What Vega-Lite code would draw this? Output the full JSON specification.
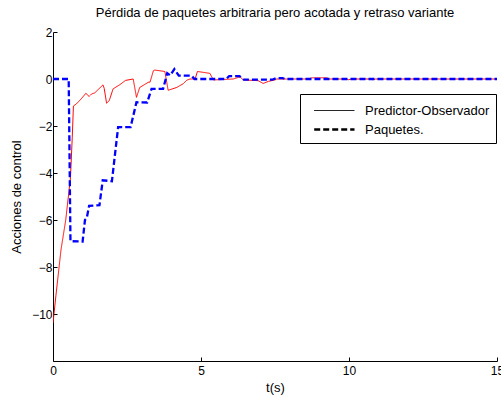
{
  "$schema": "https://vega.github.io/schema/vega-lite/v6.json",
  "width": 444,
  "height": 329,
  "autosize": "none",
  "padding": {"left": 53, "top": 32, "right": 4, "bottom": 37},
  "background": "white",
  "title": {"text": "Pérdida de paquetes arbitraria pero acotada y retraso variante", "font": "Liberation Sans", "fontSize": 13, "fontWeight": "normal", "color": "black", "frame": "group", "anchor": "middle", "offset": 6},
  "config": {
    "view": {"stroke": null},
    "axis": {"domainColor": "black", "tickColor": "black", "labelColor": "black", "titleColor": "black", "labelFont": "Liberation Sans", "titleFont": "Liberation Sans", "labelFontSize": 12, "titleFontSize": 13, "titleFontWeight": "normal", "grid": false, "tickSize": -4, "labelPadding": 5},
    "legend": {"orient": "none", "legendX": 247, "legendY": 62, "strokeColor": "black", "fillColor": "white", "padding": 6, "cornerRadius": 0, "symbolType": "M-0.33,0H3.7", "symbolStrokeColor": "black", "labelFont": "Liberation Sans", "labelFontSize": 13, "labelColor": "black", "symbolSize": 400, "rowPadding": 0, "labelOffset": 36}
  },
  "data": {"values": [
    {"series": "Predictor-Observador", "t": 0, "y": -10.38},
    {"series": "Predictor-Observador", "t": 0.1, "y": -9.2},
    {"series": "Predictor-Observador", "t": 0.27, "y": -7.27},
    {"series": "Predictor-Observador", "t": 0.43, "y": -6.0},
    {"series": "Predictor-Observador", "t": 0.59, "y": -4.2},
    {"series": "Predictor-Observador", "t": 0.65, "y": -2.5},
    {"series": "Predictor-Observador", "t": 0.69, "y": -1.15},
    {"series": "Predictor-Observador", "t": 0.79, "y": -1.06},
    {"series": "Predictor-Observador", "t": 0.95, "y": -0.85},
    {"series": "Predictor-Observador", "t": 1.11, "y": -0.61},
    {"series": "Predictor-Observador", "t": 1.22, "y": -0.74},
    {"series": "Predictor-Observador", "t": 1.3, "y": -0.64},
    {"series": "Predictor-Observador", "t": 1.41, "y": -0.59},
    {"series": "Predictor-Observador", "t": 1.69, "y": -0.25},
    {"series": "Predictor-Observador", "t": 1.73, "y": -0.4},
    {"series": "Predictor-Observador", "t": 1.81, "y": -1.03},
    {"series": "Predictor-Observador", "t": 1.9, "y": -0.92},
    {"series": "Predictor-Observador", "t": 2.03, "y": -0.42},
    {"series": "Predictor-Observador", "t": 2.26, "y": -0.24},
    {"series": "Predictor-Observador", "t": 2.45, "y": -0.06},
    {"series": "Predictor-Observador", "t": 2.71, "y": 0.0},
    {"series": "Predictor-Observador", "t": 2.82, "y": -0.78},
    {"series": "Predictor-Observador", "t": 2.93, "y": -0.36},
    {"series": "Predictor-Observador", "t": 3.22, "y": -0.14},
    {"series": "Predictor-Observador", "t": 3.28, "y": -0.13},
    {"series": "Predictor-Observador", "t": 3.39, "y": 0.35},
    {"series": "Predictor-Observador", "t": 3.44, "y": 0.38},
    {"series": "Predictor-Observador", "t": 3.78, "y": 0.32},
    {"series": "Predictor-Observador", "t": 3.89, "y": -0.48},
    {"series": "Predictor-Observador", "t": 4.18, "y": -0.36},
    {"series": "Predictor-Observador", "t": 4.4, "y": -0.2},
    {"series": "Predictor-Observador", "t": 4.52, "y": -0.05},
    {"series": "Predictor-Observador", "t": 4.63, "y": 0.0},
    {"series": "Predictor-Observador", "t": 4.8, "y": 0.0},
    {"series": "Predictor-Observador", "t": 4.88, "y": 0.32},
    {"series": "Predictor-Observador", "t": 5.3, "y": 0.24},
    {"series": "Predictor-Observador", "t": 5.42, "y": -0.04},
    {"series": "Predictor-Observador", "t": 6.09, "y": 0.0},
    {"series": "Predictor-Observador", "t": 6.32, "y": 0.09},
    {"series": "Predictor-Observador", "t": 6.43, "y": -0.04},
    {"series": "Predictor-Observador", "t": 6.93, "y": -0.07},
    {"series": "Predictor-Observador", "t": 7.1, "y": -0.19},
    {"series": "Predictor-Observador", "t": 7.28, "y": -0.1},
    {"series": "Predictor-Observador", "t": 7.5, "y": -0.04},
    {"series": "Predictor-Observador", "t": 7.56, "y": 0.0},
    {"series": "Predictor-Observador", "t": 8.6, "y": 0.0},
    {"series": "Predictor-Observador", "t": 8.75, "y": 0.05},
    {"series": "Predictor-Observador", "t": 9.25, "y": 0.05},
    {"series": "Predictor-Observador", "t": 9.35, "y": 0.0},
    {"series": "Predictor-Observador", "t": 9.9, "y": 0.0},
    {"series": "Predictor-Observador", "t": 9.98, "y": -0.03},
    {"series": "Predictor-Observador", "t": 10.1, "y": 0.0},
    {"series": "Predictor-Observador", "t": 10.7, "y": 0.0},
    {"series": "Predictor-Observador", "t": 10.8, "y": -0.03},
    {"series": "Predictor-Observador", "t": 10.9, "y": 0.0},
    {"series": "Predictor-Observador", "t": 15, "y": 0.0},
    {"series": "Paquetes.", "t": 0, "y": 0},
    {"series": "Paquetes.", "t": 0.53, "y": 0},
    {"series": "Paquetes.", "t": 0.59, "y": -6.9},
    {"series": "Paquetes.", "t": 1.0, "y": -6.92},
    {"series": "Paquetes.", "t": 1.08, "y": -6.0},
    {"series": "Paquetes.", "t": 1.14, "y": -5.92},
    {"series": "Paquetes.", "t": 1.22, "y": -5.4},
    {"series": "Paquetes.", "t": 1.57, "y": -5.37},
    {"series": "Paquetes.", "t": 1.68, "y": -4.31},
    {"series": "Paquetes.", "t": 1.99, "y": -4.35},
    {"series": "Paquetes.", "t": 2.2, "y": -2.05},
    {"series": "Paquetes.", "t": 2.62, "y": -2.05},
    {"series": "Paquetes.", "t": 2.82, "y": -0.99},
    {"series": "Paquetes.", "t": 3.18, "y": -1.0},
    {"series": "Paquetes.", "t": 3.33, "y": -0.42},
    {"series": "Paquetes.", "t": 3.72, "y": -0.42},
    {"series": "Paquetes.", "t": 3.86, "y": 0.25},
    {"series": "Paquetes.", "t": 3.96, "y": 0.15},
    {"series": "Paquetes.", "t": 4.1, "y": 0.42},
    {"series": "Paquetes.", "t": 4.25, "y": 0.14},
    {"series": "Paquetes.", "t": 4.68, "y": 0.14},
    {"series": "Paquetes.", "t": 4.78, "y": 0.0},
    {"series": "Paquetes.", "t": 5.85, "y": 0.0},
    {"series": "Paquetes.", "t": 5.95, "y": 0.12},
    {"series": "Paquetes.", "t": 6.3, "y": 0.12},
    {"series": "Paquetes.", "t": 6.45, "y": -0.03},
    {"series": "Paquetes.", "t": 7.4, "y": -0.03},
    {"series": "Paquetes.", "t": 7.55, "y": 0.04},
    {"series": "Paquetes.", "t": 7.75, "y": 0.04},
    {"series": "Paquetes.", "t": 7.85, "y": 0.0},
    {"series": "Paquetes.", "t": 15, "y": 0.0}
  ]},
  "encoding": {
    "x": {"field": "t", "type": "quantitative", "scale": {"domain": [0, 15], "nice": false, "zero": false}, "axis": {"values": [0, 5, 10, 15], "title": "t(s)", "labelFlush": false, "labelPadding": 8, "titlePadding": 5}},
    "y": {"field": "y", "type": "quantitative", "scale": {"domain": [-12, 2], "nice": false, "zero": false}, "axis": {"values": [-10, -8, -6, -4, -2, 0, 2], "title": "Acciones de control", "titlePadding": 8}},
    "strokeDash": {"field": "series", "type": "nominal", "scale": {"domain": ["Predictor-Observador", "Paquetes."], "range": [[1, 0], [6, 3]]}, "legend": {"title": null}},
    "strokeWidth": {"field": "series", "type": "nominal", "scale": {"domain": ["Predictor-Observador", "Paquetes."], "range": [1, 2.3]}, "legend": {"title": null}},
    "order": {"field": "t", "type": "quantitative"}
  },
  "layer": [
    {"transform": [{"filter": "datum.series === 'Predictor-Observador'"}], "mark": {"type": "line", "color": "#ff0000", "clip": true}},
    {"transform": [{"filter": "datum.series === 'Paquetes.'"}], "mark": {"type": "line", "color": "#0000ff", "clip": true}}
  ]
}
